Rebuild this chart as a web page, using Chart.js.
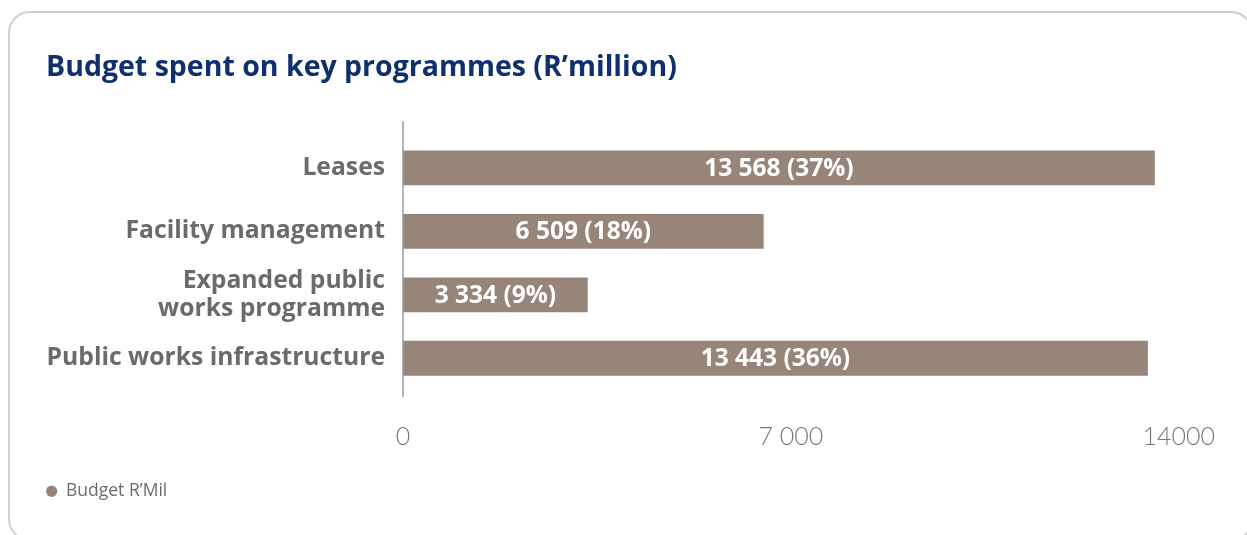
<!DOCTYPE html>
<html>
<head>
<meta charset="utf-8">
<script src="https://cdn.jsdelivr.net/npm/chart.js@4/dist/chart.umd.min.js"></script>
<style>
    html, body { margin: 0; padding: 0; background: #fff; overflow: hidden; }
    #wrap { position: relative; width: 1247px; height: 535px; }
    #card {
        position: absolute; left: 8px; top: 11px; width: 1245px; height: 530px;
        border: 2px solid #cfcfcf; border-radius: 22px; box-sizing: border-box;
    }
    #chart { position: absolute; left: 0; top: 0; }
</style>
</head>
<body>
<div id="wrap">
    <div id="card"></div>
    <canvas id="chart" width="1247" height="535"></canvas>
</div>
<script>
// Chart data
const categories = ['Leases', 'Facility management', ['Expanded public', 'works programme'], 'Public works infrastructure'];
const budget = [13568, 6509, 3334, 13443];
const tickValues = [0, 7000, 14000];
const tickLabels = ['0', '7 000', '14000'];

const barColor = '#978579';
const total = budget.reduce((a, b) => a + b, 0);

function formatNumber(v) {
    return String(v).replace(/\B(?=(\d{3})+(?!\d))/g, ' ');
}

// Value labels drawn in the middle of each bar
const barLabels = {
    id: 'barLabels',
    afterDatasetsDraw(chart) {
        const ctx = chart.ctx;
        const meta = chart.getDatasetMeta(0);
        ctx.save();
        ctx.fillStyle = '#ffffff';
        ctx.font = 'bold 24.5px "Open Sans"';
        ctx.textAlign = 'center';
        ctx.textBaseline = 'middle';
        meta.data.forEach((bar, i) => {
            const v = budget[i];
            const pct = Math.round(v / total * 100);
            ctx.fillText(formatNumber(v) + ' (' + pct + '%)', (bar.x + bar.base) / 2, bar.y + 1);
        });
        ctx.restore();
    }
};

// Vertical axis line, a bit taller than the plot area
const axisLine = {
    id: 'axisLine',
    afterDraw(chart) {
        const ctx = chart.ctx;
        const area = chart.chartArea;
        ctx.save();
        ctx.strokeStyle = '#9a9a9a';
        ctx.lineWidth = 1.5;
        ctx.beginPath();
        ctx.moveTo(area.left, area.top - 15);
        ctx.lineTo(area.left, area.bottom + 7);
        ctx.stroke();
        ctx.restore();
    }
};

new Chart(document.getElementById('chart'), {
    type: 'bar',
    data: {
        labels: categories,
        datasets: [{
            label: 'Budget R\u2019Mil',
            data: budget,
            backgroundColor: barColor,
            borderWidth: 0,
            categoryPercentage: 1,
            barPercentage: 0.55
        }]
    },
    options: {
        indexAxis: 'y',
        responsive: false,
        animation: false,
        layout: { padding: { left: 46, right: 66, top: 36, bottom: 25 } },
        scales: {
            x: {
                min: 0,
                max: 14000,
                afterBuildTicks(scale) {
                    scale.ticks = tickValues.map(v => ({ value: v }));
                },
                afterFit(scale) { scale.height = 92.5; },
                grid: { display: false, drawTicks: false },
                border: { display: false },
                ticks: {
                    padding: 32,
                    color: '#777777',
                    font: { family: 'Lato', size: 25, weight: '300' },
                    callback: (v, i) => tickLabels[i]
                }
            },
            y: {
                afterFit(scale) { scale.width = 357; },
                grid: { display: false, drawTicks: false },
                border: { display: false },
                ticks: {
                    padding: 18,
                    color: '#6b6b6b',
                    font: { family: 'Open Sans', size: 24.7, weight: 'bold', lineHeight: 1.16 }
                }
            }
        },
        plugins: {
            title: {
                display: true,
                text: 'Budget spent on key programmes (R\u2019million)',
                align: 'start',
                color: '#0f2f6d',
                font: { family: 'Open Sans', size: 28.5, weight: 'bold' },
                padding: { top: 15, bottom: 51 }
            },
            legend: {
                position: 'bottom',
                align: 'start',
                labels: {
                    usePointStyle: true,
                    pointStyle: 'circle',
                    boxHeight: 8,
                    pointStyleWidth: 11.3,
                    color: '#6b6b6b',
                    font: { family: 'Open Sans', size: 17.5 },
                    padding: 0
                }
            },
            tooltip: { enabled: false }
        }
    },
    plugins: [barLabels, axisLine]
});
</script>
</body>
</html>
